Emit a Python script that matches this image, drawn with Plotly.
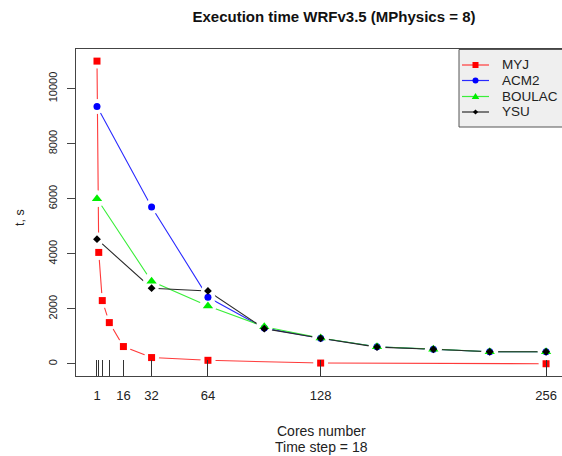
import plotly.graph_objects as go

# ---- data ----
cores_myj = [1, 2, 4, 8, 16, 32, 64, 128, 256]
myj = [11000, 4050, 2300, 1500, 630, 230, 130, 30, 5]

cores_other = [1, 32, 64, 96, 128, 160, 192, 224, 256]
acm2 = [9350, 5700, 2420, 1300, 930, 620, 530, 440, 440]
boulac = [6000, 3000, 2100, 1350, 940, 620, 535, 440, 440]
ysu = [4530, 2750, 2650, 1280, 930, 610, 530, 440, 440]

tick_vals = [1, 2, 4, 8, 16, 32, 64, 128, 256]
tick_text = ["1", "", "", "", "16", "32", "64", "128", "256"]
y_ticks = [0, 2000, 4000, 6000, 8000, 10000]
y_text = ["0", "2000", "4000", "6000", "8000", "10000"]

series_names = ["MYJ", "ACM2", "BOULAC", "YSU"]
series_x = [cores_myj, cores_other, cores_other, cores_other]
series_y = [myj, acm2, boulac, ysu]
colors = ["#ff0000", "#0000ff", "#00ee00", "#000000"]
line_colors = ["#ff3a3a", "#2a2aff", "#3aee3a", "#2a2a2a"]
symbols = ["square", "circle", "triangle-up", "diamond"]
sizes = [7, 7, 9, 6]

FONT = "Liberation Sans, Arial, Helvetica, sans-serif"

# plot area in pixels (for layout decorations)
L, T, W, H = 76, 49, 486, 327
def px(x):
    return (x - L) / W
def py(y):
    return (T + H - y) / H

fig = go.Figure()

# lines
for xs, ys, lc, in zip(series_x, series_y, line_colors):
    fig.add_trace(go.Scatter(x=xs, y=ys, mode="lines", line=dict(color=lc, width=1.1),
                             showlegend=False, hoverinfo="skip"))
# gaps around points (R type = "b")
for xs, ys, sz in zip(series_x, series_y, sizes):
    fig.add_trace(go.Scatter(x=xs, y=ys, mode="markers",
                             marker=dict(symbol="circle", size=sz + 8, color="white"),
                             showlegend=False, hoverinfo="skip"))
# markers
for name, xs, ys, c, s, sz in zip(series_names, series_x, series_y, colors, symbols, sizes):
    fig.add_trace(go.Scatter(x=xs, y=ys, mode="markers", name=name,
                             marker=dict(symbol=s, size=sz, color=c),
                             showlegend=False))

# ---- manual legend (R-style) ----
shapes = [dict(type="rect", xref="paper", yref="paper",
               x0=px(459), x1=px(640), y0=py(127), y1=py(49.5),
               fillcolor="#efefef", line=dict(color="#555", width=1), layer="above")]
annotations = []
rows = [65, 80.5, 96.5, 112]
for name, c, lc, s, yy in zip(series_names, colors, line_colors, symbols, rows):
    shapes.append(dict(type="line", xref="paper", yref="paper",
                       x0=px(462), x1=px(489), y0=py(yy), y1=py(yy),
                       line=dict(color=lc, width=1.2), layer="above"))
    cx, r = 475.5, 3
    if s == "square":
        shapes.append(dict(type="rect", xref="paper", yref="paper",
                           x0=px(cx - r), x1=px(cx + r), y0=py(yy + r), y1=py(yy - r),
                           fillcolor=c, line=dict(width=0), layer="above"))
    elif s == "circle":
        shapes.append(dict(type="circle", xref="paper", yref="paper",
                           x0=px(cx - r), x1=px(cx + r), y0=py(yy + r), y1=py(yy - r),
                           fillcolor=c, line=dict(width=0), layer="above"))
    elif s == "triangle-up":
        path = "M {} {} L {} {} L {} {} Z".format(px(cx), py(yy - 3.5), px(cx - 3.8), py(yy + 2.5),
                                                  px(cx + 3.8), py(yy + 2.5))
        shapes.append(dict(type="path", xref="paper", yref="paper", path=path,
                           fillcolor=c, line=dict(width=0), layer="above"))
    else:
        path = "M {} {} L {} {} L {} {} L {} {} Z".format(px(cx), py(yy - 2.6), px(cx + 2.6), py(yy),
                                                          px(cx), py(yy + 2.6), px(cx - 2.6), py(yy))
        shapes.append(dict(type="path", xref="paper", yref="paper", path=path,
                           fillcolor=c, line=dict(width=0), layer="above"))
    annotations.append(dict(text=name, xref="paper", yref="paper", x=px(500), y=py(yy),
                            xanchor="left", yanchor="middle", showarrow=False,
                            font=dict(size=13.5, color="#222")))

annotations += [
    dict(text="Cores number", xref="paper", yref="paper", x=px(321), y=py(431),
         xanchor="center", yanchor="middle", showarrow=False, font=dict(size=14)),
    dict(text="Time step = 18", xref="paper", yref="paper", x=px(321), y=py(447),
         xanchor="center", yanchor="middle", showarrow=False, font=dict(size=14)),
    dict(text="t, s", xref="paper", yref="paper", x=px(20), y=py(218),
         xanchor="center", yanchor="middle", showarrow=False, textangle=-90,
         font=dict(size=12.5)),
]

fig.update_layout(
    width=562, height=456,
    margin=dict(l=L, r=0, t=T, b=456 - T - H),
    paper_bgcolor="white", plot_bgcolor="white",
    font=dict(family=FONT, size=12, color="#222"),
    title=dict(text="<b>Execution time WRFv3.5 (MPhysics = 8)</b>",
               x=334 / 562, y=1 - 17 / 456, xanchor="center", yanchor="middle",
               font=dict(size=15, color="#111")),
    showlegend=False,
    xaxis=dict(range=[-10.92, 265.05], showgrid=False, zeroline=False,
               showline=True, linecolor="#444", linewidth=1, mirror=True,
               ticks="inside", ticklen=16, tickcolor="#333", tickwidth=1,
               tickvals=tick_vals, ticktext=tick_text, ticklabelstandoff=7,
               tickfont=dict(size=13)),
    yaxis=dict(range=[-440, 11440], showgrid=False, zeroline=False,
               showline=True, linecolor="#444", linewidth=1,
               ticks="outside", ticklen=8, tickcolor="#444", tickwidth=1,
               tickvals=y_ticks, ticktext=y_text, tickangle=-90, ticklabelstandoff=6,
               tickfont=dict(size=11)),
    shapes=shapes,
    annotations=annotations,
)

fig.write_html("out.html")
